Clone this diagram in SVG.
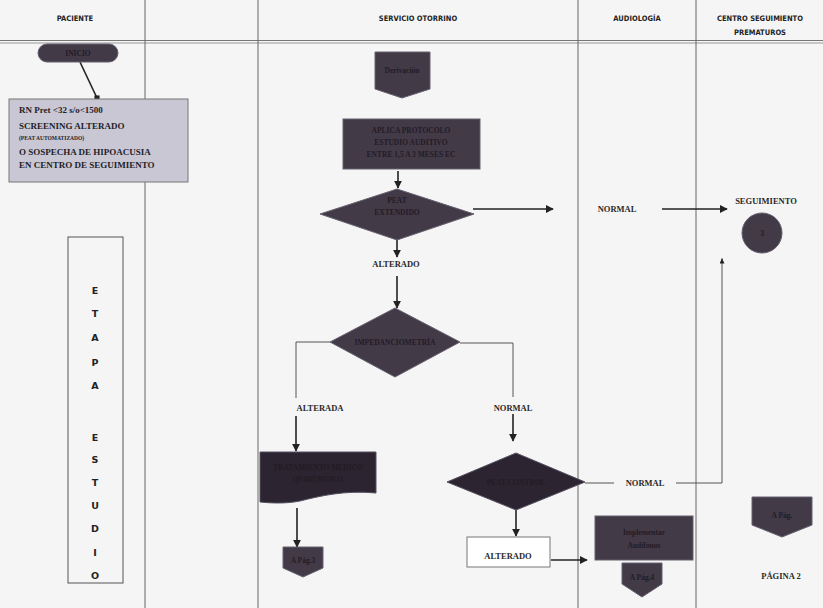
<svg xmlns="http://www.w3.org/2000/svg" width="823" height="608" viewBox="0 0 823 608">
<style>
.hd{font-family:"DejaVu Sans Condensed","DejaVu Sans",sans-serif;font-weight:bold;font-size:7.5px;fill:#222;text-anchor:middle}
.lbl{font-family:"Liberation Serif",serif;font-weight:bold;font-size:8.5px;fill:#2a2a2a;text-anchor:middle}
.dk{fill:#433a48;stroke:#666070;stroke-width:1}
.dk2{fill:#2c2430;stroke:#555060;stroke-width:1}
.dt{font-family:"Liberation Serif",serif;font-weight:bold;font-size:7.5px;fill:#221c26;text-anchor:middle}
.lane{stroke:#666;stroke-width:1;fill:none}
.con{stroke:#222;stroke-width:1.6;fill:none}
.thin{stroke:#555;stroke-width:1;fill:none}
.et{font-family:"DejaVu Sans",sans-serif;font-weight:bold;font-size:9.5px;fill:#222;text-anchor:middle}
</style>
<defs>
<marker id="ah" viewBox="0 0 10 10" refX="9" refY="5" markerWidth="5" markerHeight="5" orient="auto"><path d="M0,0 L10,5 L0,10 z" fill="#222"/></marker>
<marker id="dot" viewBox="0 0 10 10" refX="5" refY="5" markerWidth="4" markerHeight="4"><rect x="1" y="1" width="8" height="8" fill="#222"/></marker>
</defs>
<rect width="823" height="608" fill="#f5f5f5"/>
<g id="header">
<text class="hd" x="75" y="21">PACIENTE</text>
<text class="hd" x="418" y="21">SERVICIO OTORRINO</text>
<text class="hd" x="637" y="21">AUDIOLOGÍA</text>
<text class="hd" x="760" y="21">CENTRO SEGUIMIENTO</text>
<text class="hd" x="760" y="35">PREMATUROS</text>
<line x1="0" y1="40.5" x2="823" y2="40.5" stroke="#777" stroke-width="1"/>
<line x1="0" y1="43" x2="823" y2="43" stroke="#999" stroke-width="1"/>
<line class="lane" x1="145" y1="0" x2="145" y2="608"/>
<line class="lane" x1="258" y1="0" x2="258" y2="608"/>
<line class="lane" x1="578" y1="0" x2="578" y2="608"/>
<line class="lane" x1="696" y1="0" x2="696" y2="608"/>
</g>
<g id="connectors">
<line class="con" x1="80" y1="62" x2="97" y2="98" marker-end="url(#dot)"/>
<line class="con" x1="398" y1="171" x2="398" y2="188" marker-end="url(#ah)"/>
<line class="con" x1="473" y1="209" x2="553" y2="209" marker-end="url(#ah)"/>
<line class="con" x1="662" y1="209" x2="727" y2="209" marker-end="url(#ah)"/>
<line class="con" x1="397" y1="240" x2="397" y2="257" marker-end="url(#ah)"/>
<line class="con" x1="397" y1="276" x2="397" y2="308" marker-end="url(#ah)"/>
<polyline class="thin" points="330,342 296,342 296,398"/>
<polyline class="thin" points="460,343 513,343 513,397"/>
<line class="con" x1="296" y1="416" x2="296" y2="451" marker-end="url(#ah)"/>
<line class="con" x1="513" y1="414" x2="513" y2="441" marker-end="url(#ah)"/>
<line class="con" x1="297" y1="508" x2="297" y2="547" marker-end="url(#ah)"/>
<line class="thin" x1="585" y1="483" x2="614" y2="483"/>
<polyline class="thin" points="676,483 722,483 722,258"/>
<line class="thin" x1="722" y1="262" x2="722" y2="259" marker-end="url(#ah)"/>
<line class="con" x1="516" y1="510" x2="516" y2="536" marker-end="url(#ah)"/>
<line class="con" x1="551" y1="560" x2="587" y2="560" marker-end="url(#ah)"/>
</g>
<g id="inicio">
<rect class="dk" x="38" y="44" width="80" height="18" rx="9"/>
<text class="dt" x="78" y="56">INICIO</text>
</g>
<g id="paciente-box">
<rect x="9" y="99" width="179" height="83" fill="#c9c7d3" stroke="#777" stroke-width="1"/>
<text font-family="Liberation Serif,serif" font-weight="bold" font-size="9px" fill="#1e1e2a">
<tspan x="19" y="113">RN Pret  &lt;32 s/o&lt;1500</tspan>
<tspan x="19" y="129">SCREENING  ALTERADO</tspan>
<tspan x="19" y="140" font-size="5.5px">(PEAT AUTOMATIZADO)</tspan>
<tspan x="19" y="155">O SOSPECHA DE HIPOACUSIA</tspan>
<tspan x="19" y="168">EN CENTRO DE SEGUIMIENTO</tspan>
</text>
</g>
<g id="etapa">
<rect x="68" y="237" width="55" height="346" fill="none" stroke="#555" stroke-width="1"/>
<text class="et" x="95" y="294">E</text>
<text class="et" x="95" y="317">T</text>
<text class="et" x="95" y="341">A</text>
<text class="et" x="95" y="366">P</text>
<text class="et" x="95" y="389">A</text>
<text class="et" x="95" y="441">E</text>
<text class="et" x="95" y="463">S</text>
<text class="et" x="95" y="486">T</text>
<text class="et" x="95" y="509">U</text>
<text class="et" x="95" y="532">D</text>
<text class="et" x="95" y="556">I</text>
<text class="et" x="95" y="579">O</text>
</g>
<g id="derivacion">
<path class="dk" d="M375,52 H430 V89 L402,98 L375,89 Z"/>
<text class="dt" x="402" y="73">Derivación</text>
</g>
<g id="protocolo">
<rect class="dk" x="343" y="119" width="137" height="50"/>
<text class="dt" x="411" y="133">APLICA PROTOCOLO</text>
<text class="dt" x="411" y="145">ESTUDIO AUDITIVO</text>
<text class="dt" x="411" y="157">ENTRE 1,5 A 3 MESES EC</text>
</g>
<g id="peat-extendido">
<path class="dk" d="M397,189 L474,214 L397,240 L320,214 Z"/>
<text class="dt" x="397" y="203">PEAT</text>
<text class="dt" x="397" y="215">EXTENDIDO</text>
</g>
<g id="normal1"><text class="lbl" x="617" y="212">NORMAL</text></g>
<g id="seguimiento">
<text class="lbl" x="766" y="204">SEGUIMIENTO</text>
<circle cx="762" cy="233" r="20" class="dk"/>
<text class="dt" x="762" y="236">3</text>
</g>
<g id="alterado1"><text class="lbl" x="396" y="267">ALTERADO</text></g>
<g id="impedanciometria">
<path class="dk" d="M395,308 L460,342 L395,377 L330,342 Z"/>
<text class="dt" x="395" y="345">IMPEDANCIOMETRÍA</text>
</g>
<g id="alterada"><text class="lbl" x="320" y="411">ALTERADA</text></g>
<g id="normal2"><text class="lbl" x="513" y="411">NORMAL</text></g>
<g id="tratamiento">
<path class="dk2" d="M260,452 H376 V493 C345,490 320,496 300,501 C285,504 270,503 260,502 Z"/>
<text class="dt" x="318" y="470" fill="#1a141c">TRATAMIENTO MÉDICO</text>
<text class="dt" x="318" y="482" fill="#1a141c">QUIRÚRGICO</text>
</g>
<g id="pag3">
<path class="dk" d="M283,547 H323 V568 L303,577 L283,568 Z"/>
<text class="dt" x="303" y="563">A Pág.3</text>
</g>
<g id="peat-control">
<path class="dk2" d="M516,453 L585,482 L516,510 L447,482 Z"/>
<text class="dt" x="516" y="485" fill="#1a141c">PEAT CONTROL</text>
</g>
<g id="normal3"><text class="lbl" x="645" y="486">NORMAL</text></g>
<g id="alterado2">
<rect x="467" y="537" width="83" height="30" fill="#fff" stroke="#777" stroke-width="1"/>
<text class="lbl" x="508" y="559">ALTERADO</text>
</g>
<g id="audifonos">
<rect class="dk" x="595" y="516" width="98" height="44"/>
<text class="dt" x="644" y="535">Implementar</text>
<text class="dt" x="644" y="548">Audífonos</text>
</g>
<g id="pag4">
<path class="dk" d="M622,563 H662 V584 L642,597 L622,584 Z"/>
<text class="dt" x="642" y="580">A Pág.4</text>
</g>
<g id="pag">
<path class="dk" d="M752,497 H812 V525 L782,537 L752,525 Z"/>
<text class="dt" x="782" y="518">A Pág.</text>
</g>
<g id="pagina2"><text class="lbl" x="781" y="579">PÁGINA 2</text></g>
</svg>
